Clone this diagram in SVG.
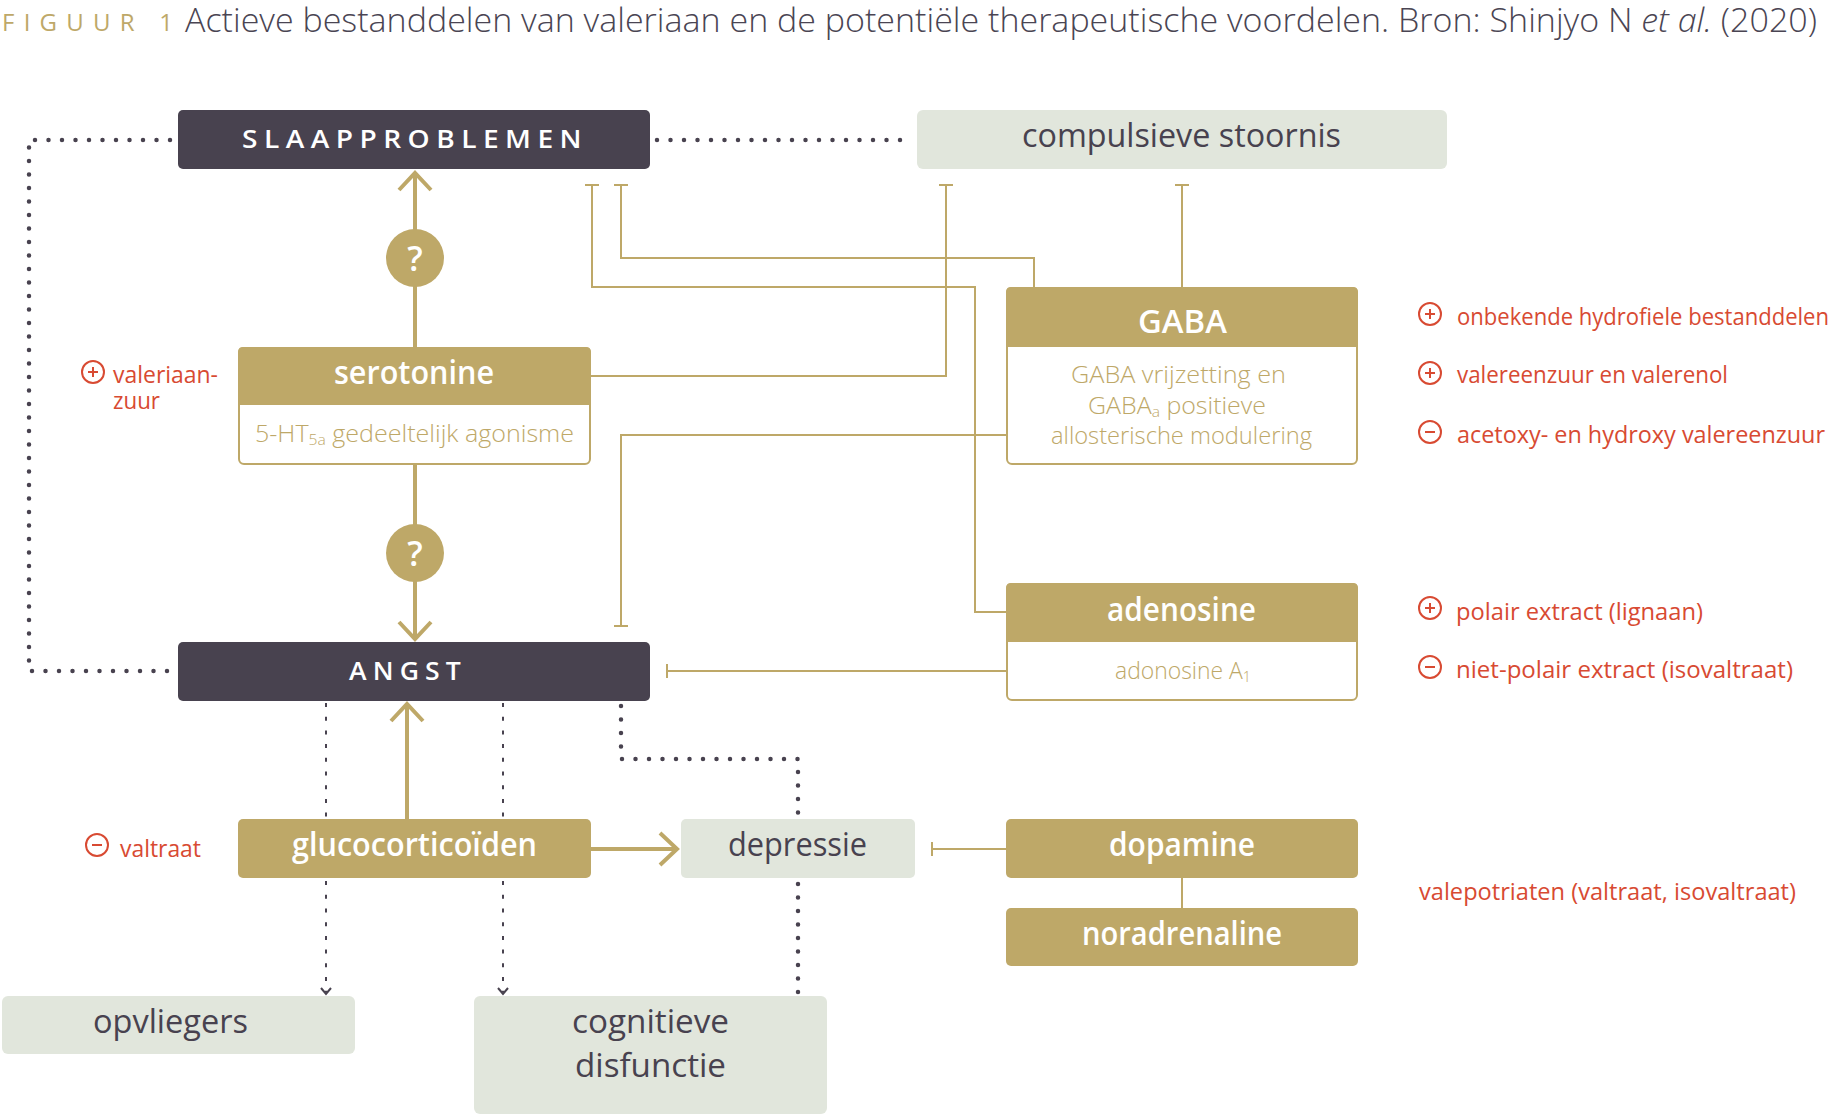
<svg xmlns="http://www.w3.org/2000/svg" width="1836" height="1115" viewBox="0 0 1836 1115">
<defs>
<style>
text{font-family:"Open Sans","Noto Sans","DejaVu Sans",sans-serif;}
.dark{fill:#48424f;}
.gold{fill:#bea868;}
.light{fill:#e1e6dc;}
.wbox{fill:#ffffff;stroke:#bea868;stroke-width:2;}
.cap{fill:#ffffff;font-size:26px;font-weight:600;letter-spacing:6px;}
.lbl{fill:#ffffff;font-size:33px;font-weight:600;}
.dlbl{fill:#48424f;font-size:33px;font-weight:500;}
.sub{fill:#bea868;font-size:24px;font-weight:300;}
.red{fill:#d84a32;font-size:24px;font-weight:400;}
.gl{fill:none;stroke:#bea868;stroke-width:2;}
.ga{fill:none;stroke:#bea868;stroke-width:4;}
.dd{fill:none;stroke:#48424f;stroke-width:4.5;stroke-linecap:round;stroke-dasharray:0 13.5;}
.td{fill:none;stroke:#48424f;stroke-width:2;stroke-dasharray:4 9.7;}
.tdh{fill:none;stroke:#48424f;stroke-width:2;}
.ico{fill:none;stroke:#d84a32;stroke-width:2;}
</style>
</defs>

<g id="title">
<text x="2" y="31" font-size="24" font-weight="400" fill="#bea868" textLength="171" lengthAdjust="spacing">FIGUUR 1</text>
<text x="185" y="32" font-size="33" font-weight="300" fill="#4a4553" textLength="1632" lengthAdjust="spacingAndGlyphs">Actieve bestanddelen van valeriaan en de potentiële therapeutische voordelen. Bron: Shinjyo N <tspan font-style="italic">et al.</tspan> (2020)</text>
</g>

<g id="connectors">
<!-- dark dotted -->
<path class="dd" d="M170,140 H29 V671 H170"/>
<path class="dd" d="M657,140 H912"/>
<path class="dd" d="M621,706 V759 H798 V815"/>
<path class="dd" d="M798,884 V994"/>
<!-- thin dotted with small arrows -->
<path class="td" d="M326,703 V992"/>
<path class="tdh" d="M321,988 L326,994 L331,988"/>
<path class="td" d="M503,703 V992"/>
<path class="tdh" d="M498,988 L503,994 L508,988"/>
<!-- gold thin inhibitory lines -->
<path class="gl" d="M592,185 V287 H975 V612 H1006"/>
<path class="gl" d="M585,185 H599"/>
<path class="gl" d="M621,185 V258 H1034 V287"/>
<path class="gl" d="M614,185 H628"/>
<path class="gl" d="M946,185 V376 H590"/>
<path class="gl" d="M939,185 H953"/>
<path class="gl" d="M1182,185 V287"/>
<path class="gl" d="M1175,185 H1189"/>
<path class="gl" d="M1006,435 H621 V626"/>
<path class="gl" d="M614,626 H628"/>
<path class="gl" d="M1006,671 H667"/>
<path class="gl" d="M667,664 V678"/>
<path class="gl" d="M1006,849 H932"/>
<path class="gl" d="M932,842 V856"/>
<path class="gl" d="M1182,878 V908"/>
<!-- gold thick arrows -->
<path class="ga" d="M415,347 V173"/>
<path class="ga" d="M399,190 L415,173 L431,190"/>
<path class="ga" d="M415,464 V639"/>
<path class="ga" d="M399,622 L415,639 L431,622"/>
<path class="ga" d="M407,819 V704"/>
<path class="ga" d="M391,721 L407,704 L423,721"/>
<path class="ga" d="M591,849 H677"/>
<path class="ga" d="M660,833 L677,849 L660,865"/>
</g>

<g id="q1">
<circle cx="415" cy="258" r="29" class="gold"/>
<text x="415" y="271" text-anchor="middle" fill="#ffffff" font-size="34" font-weight="600">?</text>
</g>
<g id="q2">
<circle cx="415" cy="553" r="29" class="gold"/>
<text x="415" y="566" text-anchor="middle" fill="#ffffff" font-size="34" font-weight="600">?</text>
</g>

<g id="slaapproblemen">
<rect x="178" y="110" width="472" height="59" rx="5" class="dark"/>
<text x="242" y="148" class="cap" textLength="346" lengthAdjust="spacingAndGlyphs">SLAAPPROBLEMEN</text>
</g>

<g id="compulsieve">
<rect x="917" y="110" width="530" height="59" rx="6" class="light"/>
<text x="1022" y="147" class="dlbl" textLength="319" lengthAdjust="spacingAndGlyphs">compulsieve stoornis</text>
</g>

<g id="serotonine">
<rect x="239" y="348" width="351" height="116" rx="5" class="wbox"/>
<path d="M238,405 V352 Q238,347 243,347 H586 Q591,347 591,352 V405 Z" class="gold"/>
<text x="334" y="384" class="lbl" textLength="160" lengthAdjust="spacingAndGlyphs">serotonine</text>
<text x="255" y="442" class="sub" textLength="319" lengthAdjust="spacingAndGlyphs">5-HT<tspan font-size="15" dy="3">5a</tspan><tspan dy="-3"> gedeeltelijk agonisme</tspan></text>
</g>

<g id="gaba">
<rect x="1007" y="288" width="350" height="176" rx="5" class="wbox"/>
<path d="M1006,347 V292 Q1006,287 1011,287 H1353 Q1358,287 1358,292 V347 Z" class="gold"/>
<text x="1138" y="333" class="lbl" font-size="38" textLength="89" lengthAdjust="spacingAndGlyphs">GABA</text>
<text x="1071" y="383" class="sub" textLength="215" lengthAdjust="spacingAndGlyphs">GABA vrijzetting en</text>
<text x="1088" y="414" class="sub" textLength="178" lengthAdjust="spacingAndGlyphs">GABA<tspan font-size="15" dy="3">a</tspan><tspan dy="-3"> positieve</tspan></text>
<text x="1051" y="444" class="sub" textLength="261" lengthAdjust="spacingAndGlyphs">allosterische modulering</text>
</g>

<g id="adenosine">
<rect x="1007" y="584" width="350" height="116" rx="5" class="wbox"/>
<path d="M1006,642 V588 Q1006,583 1011,583 H1353 Q1358,583 1358,588 V642 Z" class="gold"/>
<text x="1107" y="621" class="lbl" textLength="149" lengthAdjust="spacingAndGlyphs">adenosine</text>
<text x="1115" y="679" class="sub" textLength="136" lengthAdjust="spacingAndGlyphs">adonosine A<tspan font-size="15" dy="3">1</tspan></text>
</g>

<g id="angst">
<rect x="178" y="642" width="472" height="59" rx="5" class="dark"/>
<text x="349" y="680" class="cap" textLength="118" lengthAdjust="spacingAndGlyphs">ANGST</text>
</g>

<g id="glucocorticoiden">
<rect x="238" y="819" width="353" height="59" rx="5" class="gold"/>
<text x="292" y="856" class="lbl" textLength="245" lengthAdjust="spacingAndGlyphs">glucocorticoïden</text>
</g>

<g id="depressie">
<rect x="681" y="819" width="234" height="59" rx="5" class="light"/>
<text x="728" y="856" class="dlbl" textLength="139" lengthAdjust="spacingAndGlyphs">depressie</text>
</g>

<g id="dopamine">
<rect x="1006" y="819" width="352" height="59" rx="5" class="gold"/>
<text x="1109" y="856" class="lbl" textLength="146" lengthAdjust="spacingAndGlyphs">dopamine</text>
</g>

<g id="noradrenaline">
<rect x="1006" y="908" width="352" height="58" rx="5" class="gold"/>
<text x="1082" y="945" class="lbl" textLength="200" lengthAdjust="spacingAndGlyphs">noradrenaline</text>
</g>

<g id="opvliegers">
<rect x="2" y="996" width="353" height="58" rx="6" class="light"/>
<text x="93" y="1033" class="dlbl" textLength="155" lengthAdjust="spacingAndGlyphs">opvliegers</text>
</g>

<g id="cognitieve">
<rect x="474" y="996" width="353" height="118" rx="6" class="light"/>
<text x="572" y="1033" class="dlbl" textLength="157" lengthAdjust="spacingAndGlyphs">cognitieve</text>
<text x="575" y="1077" class="dlbl" textLength="151" lengthAdjust="spacingAndGlyphs">disfunctie</text>
</g>

<g id="annotations">
<circle cx="93" cy="372" r="11" class="ico"/><path class="ico" d="M88,372 H98 M93,367 V377"/>
<text x="113" y="383" class="red" textLength="105" lengthAdjust="spacingAndGlyphs">valeriaan-</text>
<text x="113" y="409" class="red" textLength="47" lengthAdjust="spacingAndGlyphs">zuur</text>

<circle cx="97" cy="845" r="11" class="ico"/><path class="ico" d="M92,845 H102"/>
<text x="120" y="857" class="red" textLength="81" lengthAdjust="spacingAndGlyphs">valtraat</text>

<circle cx="1430" cy="314" r="11" class="ico"/><path class="ico" d="M1425,314 H1435 M1430,309 V319"/>
<text x="1457" y="325" class="red" textLength="372" lengthAdjust="spacingAndGlyphs">onbekende hydrofiele bestanddelen</text>

<circle cx="1430" cy="373" r="11" class="ico"/><path class="ico" d="M1425,373 H1435 M1430,368 V378"/>
<text x="1457" y="383" class="red" textLength="271" lengthAdjust="spacingAndGlyphs">valereenzuur en valerenol</text>

<circle cx="1430" cy="432" r="11" class="ico"/><path class="ico" d="M1425,432 H1435"/>
<text x="1457" y="443" class="red" textLength="368" lengthAdjust="spacingAndGlyphs">acetoxy- en hydroxy valereenzuur</text>

<circle cx="1430" cy="608" r="11" class="ico"/><path class="ico" d="M1425,608 H1435 M1430,603 V613"/>
<text x="1456" y="620" class="red" textLength="247" lengthAdjust="spacingAndGlyphs">polair extract (lignaan)</text>

<circle cx="1430" cy="667" r="11" class="ico"/><path class="ico" d="M1425,667 H1435"/>
<text x="1456" y="678" class="red" textLength="337" lengthAdjust="spacingAndGlyphs">niet-polair extract (isovaltraat)</text>

<text x="1419" y="900" class="red" textLength="377" lengthAdjust="spacingAndGlyphs">valepotriaten (valtraat, isovaltraat)</text>
</g>
</svg>
